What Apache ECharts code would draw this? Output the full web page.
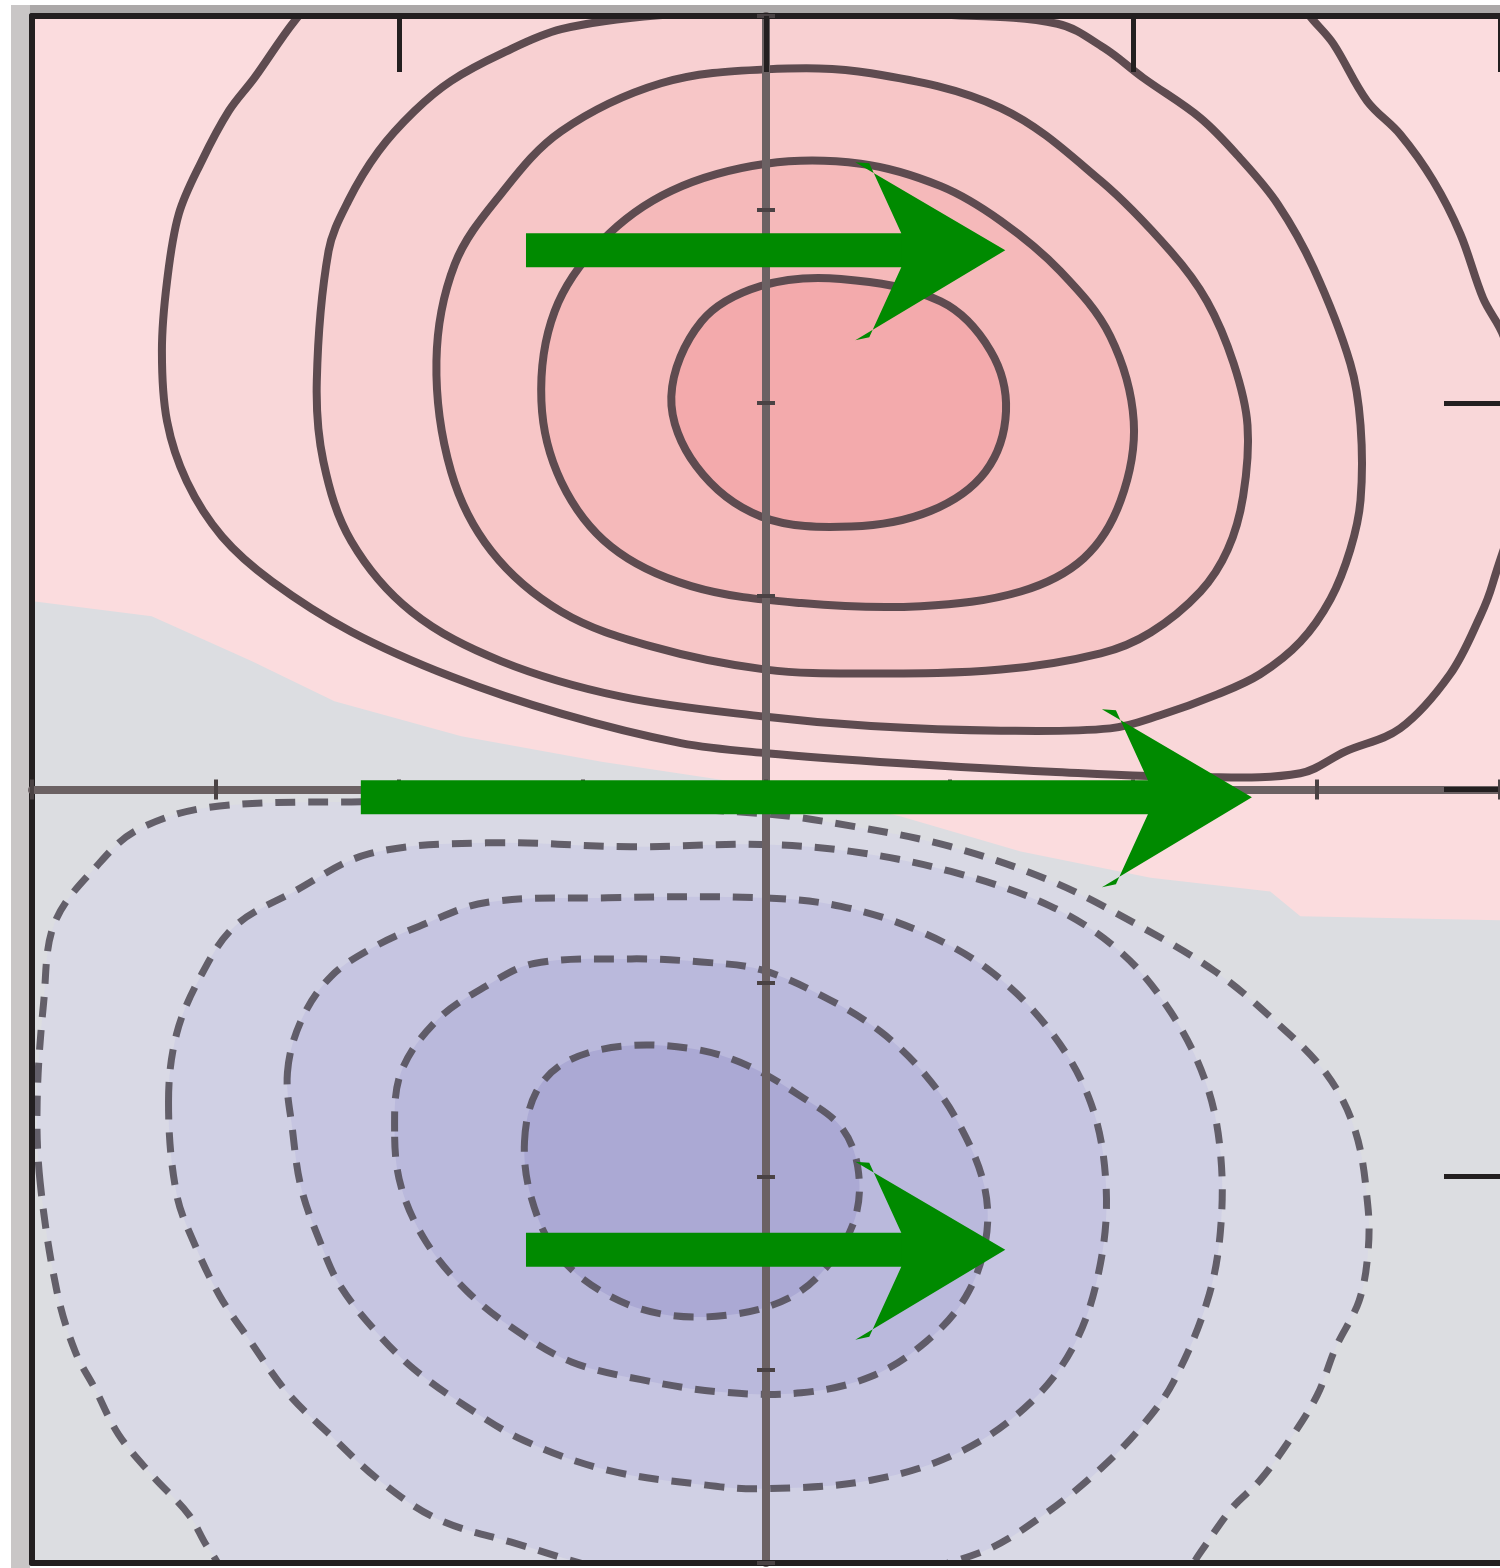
<!DOCTYPE html>
<html>
<head>
<meta charset="utf-8">
<script src="https://cdn.jsdelivr.net/npm/echarts@6/dist/echarts.min.js"></script>
<style>
  html, body { margin: 0; padding: 0; background: #ffffff; }
  #chart { width: 1500px; height: 1568px; }
</style>
</head>
<body>
<div id="chart"></div>
<script>
// ---- axes -------------------------------------------------------------
const axisMin = -1;
const axisMax = 1;
const frameTickStep = 0.5;
const centreTickStep = 0.25;

// ---- zero line of the field (warm side lies above it), left to right ----
const zeroLine = [
  [-1.10, 0.243], [-0.996, 0.243], [-0.837, 0.224], [-0.701, 0.166], [-0.588, 0.114],
  [-0.415, 0.069], [-0.224, 0.036], [0.000, 0.004], [0.184, -0.035], [0.347, -0.080],
  [0.524, -0.114], [0.687, -0.132], [0.728, -0.164], [1.10, -0.171]
];

// ---- positive contours (solid), innermost = ring 1 ----
const warmRing1 = [
  [-0.129, 0.508], [-0.088, 0.605], [-0.007, 0.651], [0.102, 0.660], [0.238, 0.631],
  [0.306, 0.567], [0.327, 0.489], [0.299, 0.411], [0.224, 0.360], [0.116, 0.340],
  [-0.007, 0.353], [-0.095, 0.418]
];
const warmRing2 = [
  [-0.306, 0.502], [-0.288, 0.618], [-0.224, 0.709], [-0.129, 0.774], [0.000, 0.809],
  [0.129, 0.809], [0.238, 0.780], [0.320, 0.735], [0.401, 0.670], [0.469, 0.586],
  [0.501, 0.476], [0.483, 0.373], [0.433, 0.299], [0.347, 0.256], [0.211, 0.237],
  [0.048, 0.241], [-0.102, 0.263], [-0.211, 0.314], [-0.279, 0.398]
];
const warmRing3 = [
  [-0.449, 0.554], [-0.424, 0.679], [-0.361, 0.770], [-0.279, 0.851], [-0.143, 0.913],
  [0.000, 0.931], [0.143, 0.926], [0.320, 0.881], [0.456, 0.787], [0.551, 0.696],
  [0.601, 0.631], [0.637, 0.551], [0.656, 0.471], [0.650, 0.379], [0.629, 0.310],
  [0.592, 0.256], [0.524, 0.203], [0.456, 0.176], [0.320, 0.155], [0.143, 0.150],
  [0.000, 0.155], [-0.156, 0.185], [-0.279, 0.230], [-0.374, 0.308], [-0.429, 0.411]
];
const warmRing4 = [
  [-0.612, 0.528], [-0.596, 0.696], [-0.569, 0.761], [-0.528, 0.825], [-0.479, 0.877],
  [-0.429, 0.916], [-0.361, 0.951], [-0.279, 0.983], [-0.146, 1.001], [0.045, 1.008],
  [0.235, 1.002], [0.397, 0.990], [0.460, 0.959], [0.514, 0.920], [0.592, 0.868],
  [0.646, 0.816], [0.697, 0.757], [0.746, 0.674], [0.796, 0.551], [0.810, 0.471],
  [0.810, 0.374], [0.796, 0.310], [0.769, 0.246], [0.728, 0.191], [0.673, 0.149],
  [0.615, 0.123], [0.537, 0.096], [0.469, 0.079], [0.320, 0.076], [0.143, 0.082],
  [0.000, 0.094], [-0.197, 0.120], [-0.361, 0.166], [-0.483, 0.230], [-0.565, 0.321],
  [-0.603, 0.424]
];
const warmRing5 = [
  [-0.642, 0.994], [-0.697, 0.920], [-0.732, 0.877], [-0.769, 0.812], [-0.800, 0.744],
  [-0.816, 0.657], [-0.823, 0.567], [-0.816, 0.476], [-0.789, 0.398], [-0.741, 0.327],
  [-0.673, 0.269], [-0.565, 0.204], [-0.429, 0.146], [-0.279, 0.098], [-0.116, 0.060],
  [0.000, 0.047], [0.184, 0.034], [0.388, 0.023], [0.592, 0.016], [0.728, 0.021],
  [0.789, 0.049], [0.864, 0.079], [0.932, 0.149], [0.973, 0.224], [0.990, 0.266],
  [1.034, 0.424], [1.007, 0.580], [0.977, 0.635], [0.946, 0.718], [0.909, 0.787],
  [0.864, 0.847], [0.819, 0.890], [0.773, 0.964], [0.746, 0.994], [0.687, 1.058],
  [0.456, 1.175], [0.000, 1.226], [-0.429, 1.161], [-0.592, 1.045]
];

// ---- negative contours (dashed), innermost = ring 1 ----
const coolRing1 = [
  [-0.329, -0.455], [-0.313, -0.391], [-0.272, -0.352], [-0.197, -0.332], [-0.102, -0.335],
  [-0.027, -0.356], [0.048, -0.397], [0.102, -0.436], [0.125, -0.488], [0.122, -0.552],
  [0.088, -0.611], [0.034, -0.656], [-0.048, -0.679], [-0.143, -0.678], [-0.224, -0.649],
  [-0.286, -0.598], [-0.320, -0.527]
];
const coolRing2 = [
  [-0.506, -0.442], [-0.497, -0.365], [-0.448, -0.298], [-0.381, -0.254], [-0.316, -0.225],
  [-0.184, -0.219], [-0.088, -0.223], [-0.007, -0.233], [0.079, -0.268], [0.156, -0.313],
  [0.218, -0.370], [0.265, -0.436], [0.298, -0.515], [0.299, -0.585], [0.272, -0.656],
  [0.218, -0.714], [0.143, -0.759], [0.048, -0.780], [-0.061, -0.779], [-0.170, -0.763],
  [-0.265, -0.740], [-0.341, -0.699], [-0.408, -0.648], [-0.463, -0.585], [-0.497, -0.514]
];
const coolRing3 = [
  [-0.652, -0.366], [-0.633, -0.298], [-0.592, -0.241], [-0.533, -0.203], [-0.473, -0.177],
  [-0.381, -0.146], [-0.216, -0.140], [-0.007, -0.140], [0.102, -0.151], [0.211, -0.184],
  [0.306, -0.235], [0.388, -0.313], [0.442, -0.404], [0.463, -0.507], [0.456, -0.611],
  [0.422, -0.714], [0.361, -0.792], [0.265, -0.856], [0.143, -0.893], [-0.007, -0.904],
  [-0.084, -0.899], [-0.216, -0.880], [-0.329, -0.842], [-0.408, -0.798], [-0.480, -0.749],
  [-0.533, -0.699], [-0.580, -0.642], [-0.605, -0.591], [-0.633, -0.516], [-0.645, -0.441]
];
const coolRing4 = [
  [-0.814, -0.404], [-0.803, -0.316], [-0.770, -0.241], [-0.724, -0.177], [-0.645, -0.133],
  [-0.540, -0.083], [-0.381, -0.069], [-0.184, -0.074], [-0.007, -0.071], [0.116, -0.080],
  [0.252, -0.106], [0.388, -0.151], [0.483, -0.210], [0.551, -0.287], [0.599, -0.378],
  [0.619, -0.468], [0.619, -0.572], [0.601, -0.662], [0.555, -0.766], [0.514, -0.821],
  [0.456, -0.878], [0.378, -0.938], [0.293, -0.986], [0.156, -1.018], [-0.007, -1.027],
  [-0.197, -1.012], [-0.347, -0.973], [-0.448, -0.943], [-0.527, -0.893], [-0.592, -0.836],
  [-0.652, -0.780], [-0.705, -0.710], [-0.744, -0.655], [-0.777, -0.591], [-0.803, -0.523]
];
const coolRing5 = [
  [-0.989, -0.507], [-0.993, -0.404], [-0.984, -0.274], [-0.969, -0.172], [-0.909, -0.096],
  [-0.856, -0.052], [-0.758, -0.023], [-0.565, -0.016], [-0.293, -0.019], [-0.007, -0.031],
  [0.121, -0.048], [0.252, -0.074], [0.390, -0.119], [0.510, -0.177], [0.610, -0.234],
  [0.687, -0.294], [0.763, -0.367], [0.803, -0.442], [0.820, -0.539], [0.820, -0.600],
  [0.808, -0.661], [0.776, -0.722], [0.751, -0.783], [0.712, -0.843], [0.673, -0.893],
  [0.635, -0.929], [0.592, -0.986], [0.524, -1.076], [0.184, -1.154], [-0.361, -1.141],
  [-0.701, -1.050], [-0.759, -0.982], [-0.786, -0.938], [-0.837, -0.886], [-0.882, -0.834],
  [-0.914, -0.775], [-0.941, -0.727], [-0.966, -0.649]
];

// ---- flow arrows: level, tail x, tip x ----
const arrowY = [0.697, -0.010, -0.595];
const arrowTail = [-0.327, -0.552, -0.327];
const arrowTip = [0.326, 0.662, 0.326];

// ---- colours ----
const neutralFill = '#dcdde1';
const warmZeroFill = '#fbdcde';
const warmRings = [warmRing5, warmRing4, warmRing3, warmRing2, warmRing1];
const warmFills = ['#f9d7d9', '#f8d0d2', '#f7c6c7', '#f5b9ba', '#f3aaac'];
const coolRings = [coolRing5, coolRing4, coolRing3, coolRing2, coolRing1];
const coolFills = ['#d9d9e5', '#d0d0e4', '#c6c5e1', '#bab9dc', '#aba9d4'];
const warmLine = '#5e4b50';
const coolLine = '#524d58';
const arrowGreen = '#008a00';
const frameColor = '#231f20';
const centreLineColor = '#6b6163';

// closed outline drawn through the cartesian scales
function outlineSeries(points, style, smooth, z) {
  return {
    type: 'custom',
    xAxisIndex: 0,
    yAxisIndex: 0,
    clip: true,
    silent: true,
    z: z,
    data: [[0, 0]],
    renderItem: function (params, api) {
      return {
        type: 'polygon',
        shape: { points: points.map(function (p) { return api.coord(p); }), smooth: smooth },
        style: style
      };
    }
  };
}

const series = [];

// warm half-plane bounded by the zero line
series.push(outlineSeries(zeroLine.concat([[1.1, 1.3], [-1.1, 1.3]]),
  { fill: warmZeroFill, stroke: null }, 0, 2));

warmRings.forEach(function (ring, i) {
  series.push(outlineSeries(ring, { fill: warmFills[i], stroke: null }, 0.35, 2));
});
coolRings.forEach(function (ring, i) {
  series.push(outlineSeries(ring, { fill: coolFills[i], stroke: null }, 0.35, 2));
});
warmRings.forEach(function (ring) {
  series.push(outlineSeries(ring, { fill: null, stroke: warmLine, lineWidth: 8 }, 0.35, 3));
});
coolRings.forEach(function (ring) {
  series.push(outlineSeries(ring, {
    fill: null, stroke: coolLine, lineWidth: 7, lineDash: [20, 13], opacity: 0.88
  }, 0.35, 3));
});

// arrows
series.push({
  type: 'custom',
  xAxisIndex: 0,
  yAxisIndex: 0,
  silent: true,
  z: 20,
  encode: { x: [0, 2], y: 1 },
  data: arrowY.map(function (y, i) { return [arrowTail[i], y, arrowTip[i]]; }),
  renderItem: function (params, api) {
    const tail = api.coord([api.value(0), api.value(1)]);
    const tip = api.coord([api.value(2), api.value(1)]);
    const tx = tip[0], ty = tip[1];
    return {
      type: 'group',
      children: [
        {
          type: 'rect',
          shape: { x: tail[0], y: ty - 17, width: (tx - 95) - tail[0], height: 34 },
          style: { fill: arrowGreen }
        },
        {
          type: 'polygon',
          shape: {
            points: [
              [tx, ty], [tx - 150, ty - 88], [tx - 136, ty - 87], [tx - 104, ty - 17],
              [tx - 104, ty + 17], [tx - 136, ty + 87], [tx - 150, ty + 90]
            ]
          },
          style: { fill: arrowGreen }
        }
      ]
    };
  }
});

function frameAxis(position, extra) {
  return Object.assign({
    type: 'value',
    gridIndex: 0,
    min: axisMin,
    max: axisMax,
    position: position,
    z: 10,
    axisLabel: { show: false },
    splitLine: { show: false }
  }, extra);
}

const option = {
  animation: false,
  backgroundColor: '#ffffff',
  graphic: [
    { type: 'rect', shape: { x: 11, y: 5, width: 1489, height: 9 }, style: { fill: '#aba8a8' }, z: 0 },
    { type: 'rect', shape: { x: 11, y: 5, width: 19, height: 1563 }, style: { fill: '#c9c6c6' }, z: 0 }
  ],
  grid: {
    left: 32, top: 16, width: 1470, height: 1547,
    show: true, backgroundColor: neutralFill, borderWidth: 0, borderColor: 'transparent'
  },
  xAxis: [
    frameAxis('top', {
      interval: frameTickStep,
      axisLine: { show: true, onZero: false, lineStyle: { color: frameColor, width: 6 } },
      axisTick: { show: true, inside: true, length: 56, lineStyle: { color: frameColor, width: 5 } }
    }),
    frameAxis('bottom', {
      interval: frameTickStep,
      axisLine: { show: true, onZero: false, lineStyle: { color: frameColor, width: 6 } },
      axisTick: { show: false }
    }),
    frameAxis('bottom', {
      interval: centreTickStep,
      axisLine: { show: true, onZero: true, onZeroAxisIndex: 0, lineStyle: { color: centreLineColor, width: 8 } },
      axisTick: { show: true, length: 10, lineStyle: { color: '#4a4244', width: 4 } }
    }),
    frameAxis('bottom', {
      interval: centreTickStep,
      axisLine: { show: false, onZero: true, onZeroAxisIndex: 0 },
      axisTick: { show: true, inside: true, length: 10, lineStyle: { color: '#4a4244', width: 4 } }
    })
  ],
  yAxis: [
    frameAxis('right', {
      interval: frameTickStep,
      axisLine: { show: false, onZero: false },
      axisTick: { show: true, inside: true, length: 56, lineStyle: { color: frameColor, width: 5 } }
    }),
    frameAxis('left', {
      interval: frameTickStep,
      axisLine: { show: true, onZero: false, lineStyle: { color: frameColor, width: 6 } },
      axisTick: { show: false }
    }),
    frameAxis('left', {
      interval: centreTickStep,
      axisLine: { show: true, onZero: true, onZeroAxisIndex: 0, lineStyle: { color: centreLineColor, width: 8 } },
      axisTick: { show: true, length: 9, lineStyle: { color: '#4a4244', width: 4 } }
    }),
    frameAxis('left', {
      interval: centreTickStep,
      axisLine: { show: false, onZero: true, onZeroAxisIndex: 0 },
      axisTick: { show: true, inside: true, length: 9, lineStyle: { color: '#4a4244', width: 4 } }
    })
  ],
  series: series
};

const chart = echarts.init(document.getElementById('chart'), null, { renderer: 'canvas' });
chart.setOption(option);
</script>
</body>
</html>
